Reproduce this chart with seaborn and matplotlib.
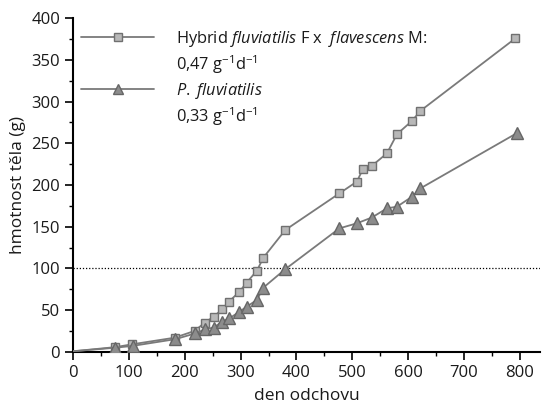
import matplotlib
matplotlib.use("Agg")
import matplotlib.pyplot as plt
from matplotlib.lines import Line2D
from matplotlib.ticker import MultipleLocator
import seaborn as sns
import pandas as pd

# growth data (day of rearing, body weight in g)
hybrid_days = [0, 76, 106, 182, 218, 236, 252, 267, 279, 298, 311, 329, 341, 380,
               477, 508, 519, 535, 562, 580, 607, 622, 792]
hybrid_weight = [0.5, 5.5, 8.9, 16.8, 25, 35, 42, 51, 60, 72, 83, 97, 113, 146,
                 190, 204, 219, 223, 238, 261, 277, 289, 376]

perch_days = [0, 76, 107, 183, 219, 237, 252, 267, 280, 298, 311, 329, 341, 380,
              477, 508, 535, 562, 580, 607, 622, 794]
perch_weight = [0.5, 4.8, 7, 15, 22, 27, 29, 36, 40, 48, 54, 62, 77, 99,
                148, 154, 161, 172, 174, 186, 196, 262]

hybrid_label = r"Hybrid $\it{fluviatilis}$ F x  $\it{flavescens}$ M:"
hybrid_rate = r"0,47 g$^{\mathrm{-1}}$d$^{\mathrm{-1}}$"
perch_label = r"$\it{P.}$ $\it{fluviatilis}$"
perch_rate = r"0,33 g$^{\mathrm{-1}}$d$^{\mathrm{-1}}$"

hybrid = pd.DataFrame({"den": hybrid_days, "hmotnost": hybrid_weight})
perch = pd.DataFrame({"den": perch_days, "hmotnost": perch_weight})

sns.set_style("ticks")
plt.rcParams["font.family"] = ["Open Sans", "DejaVu Sans"]
plt.rcParams["mathtext.fontset"] = "custom"
plt.rcParams["mathtext.rm"] = "Open Sans"
plt.rcParams["mathtext.it"] = "Open Sans:italic"

fig = plt.figure(figsize=(5.44, 4.04), dpi=100)
ax = fig.add_axes([73 / 544, 1 - 351.7 / 404, (540 - 73) / 544, (351.7 - 18.3) / 404])

line_col = "#7a7a7a"
sq_face, sq_edge = "#b8b8b8", "#707070"
tri_face, tri_edge = "#8c8c8c", "#666666"

sns.lineplot(data=hybrid, x="den", y="hmotnost", ax=ax, color=line_col, lw=1.3,
             marker="s", markersize=6.2, markerfacecolor=sq_face,
             markeredgecolor=sq_edge, markeredgewidth=1.0,
             markevery=list(range(1, len(hybrid_days))), sort=False, zorder=3)
sns.lineplot(data=perch, x="den", y="hmotnost", ax=ax, color=line_col, lw=1.3,
             marker="^", markersize=8, markerfacecolor=tri_face,
             markeredgecolor=tri_edge, markeredgewidth=1.0,
             markevery=list(range(1, len(perch_days))), sort=False, zorder=3)

ax.axhline(100, color="black", lw=0.9, ls=(0, (1, 1.5)), zorder=1)

ax.set_xlim(0, 836)
ax.set_ylim(0, 400)
ax.xaxis.set_major_locator(MultipleLocator(100))
ax.xaxis.set_minor_locator(MultipleLocator(50))
ax.yaxis.set_major_locator(MultipleLocator(50))
ax.yaxis.set_minor_locator(MultipleLocator(25))
ax.tick_params(which="major", direction="out", length=5.8, width=1.2, labelsize=12,
               color="black", labelcolor="#1a1a1a", pad=3.5)
ax.tick_params(which="minor", direction="out", length=3, width=1.0, color="black")
for side in ["left", "bottom"]:
    ax.spines[side].set_linewidth(1.5)
    ax.spines[side].set_color("black")
sns.despine(ax=ax)

ax.set_xlabel("den odchovu", fontsize=12.5, labelpad=5, color="#1a1a1a")
ax.set_ylabel("hmotnost těla (g)", fontsize=12.5, labelpad=4, color="#1a1a1a")

h1 = Line2D([], [], color=line_col, lw=1.3, marker="s", markersize=5.3,
            markerfacecolor=sq_face, markeredgecolor=sq_edge)
h2 = Line2D([], [], color=line_col, lw=1.3, marker="^", markersize=6.5,
            markerfacecolor=tri_face, markeredgecolor=tri_edge)
blank = Line2D([], [], linestyle="none")
ax.legend([h1, blank, h2, blank], [hybrid_label, hybrid_rate, perch_label, perch_rate],
          loc="upper left", bbox_to_anchor=(0.0, 0.993), frameon=False,
          fontsize=11.8, handlelength=4.45, handletextpad=1.34, labelspacing=0.28,
          borderaxespad=0.1, labelcolor="#1a1a1a")

fig.savefig("out.png", dpi=100)
